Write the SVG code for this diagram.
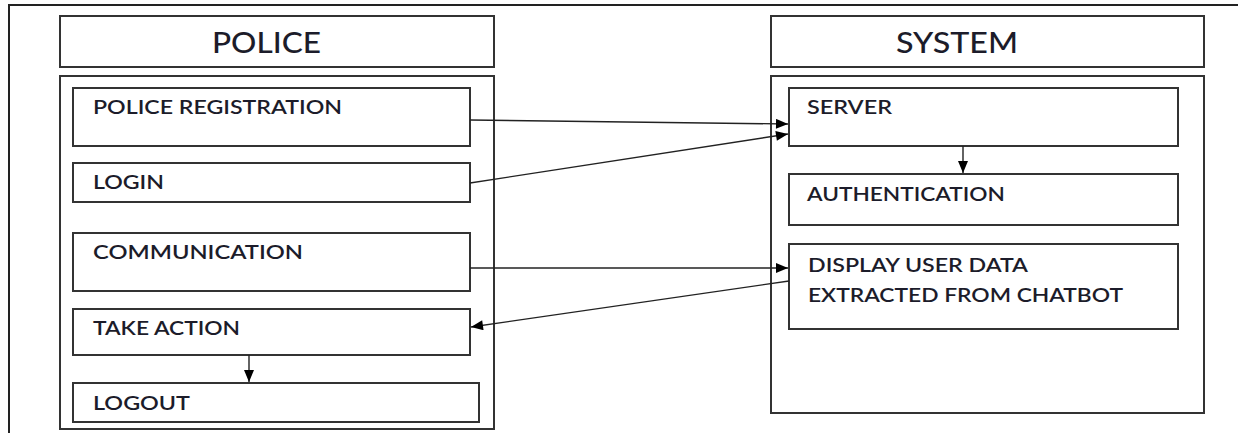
<svg xmlns="http://www.w3.org/2000/svg" width="1238" height="433" viewBox="0 0 1238 433">
<style>
.box{fill:#fff;stroke:#333;stroke-width:2}
.t{font-family:Lato,"Liberation Sans",Arial,sans-serif;font-size:19px;font-weight:600;fill:#1c1c2a}
.h{font-family:Lato,"Liberation Sans",Arial,sans-serif;font-size:28px;font-weight:500;fill:#1c1c2a}
.c{stroke:#222;stroke-width:1.4;fill:none;marker-end:url(#ah)}
</style>
<defs>
<marker id="ah" viewBox="0 0 12 10" refX="12" refY="5" markerWidth="13" markerHeight="10" markerUnits="userSpaceOnUse" orient="auto">
<path d="M0,0 L12,5 L0,10 Z" fill="#000"/>
</marker>
</defs>
<rect width="1238" height="433" fill="#fff"/>
<g id="frame">
<path d="M9,433 L9,5 L1238,5" fill="none" stroke="#222" stroke-width="2"/>
</g>
<g id="police-header"><rect class="box" x="60" y="16" width="434" height="51"/><text class="h" x="212" y="53" textLength="109" lengthAdjust="spacingAndGlyphs">POLICE</text></g>
<g id="police-container"><rect class="box" x="60" y="76" width="434" height="353"/></g>
<g id="police-registration"><rect class="box" x="73" y="88" width="397" height="58"/><text class="t" x="93" y="114" textLength="249" lengthAdjust="spacingAndGlyphs">POLICE REGISTRATION</text></g>
<g id="login"><rect class="box" x="73" y="163" width="397" height="39"/><text class="t" x="93" y="189" textLength="71" lengthAdjust="spacingAndGlyphs">LOGIN</text></g>
<g id="communication"><rect class="box" x="73" y="233" width="397" height="58"/><text class="t" x="93" y="259" textLength="210" lengthAdjust="spacingAndGlyphs">COMMUNICATION</text></g>
<g id="take-action"><rect class="box" x="73" y="309" width="397" height="46"/><text class="t" x="93" y="335" textLength="147" lengthAdjust="spacingAndGlyphs">TAKE ACTION</text></g>
<g id="logout"><rect class="box" x="73" y="383" width="406" height="39"/><text class="t" x="93" y="410" textLength="97" lengthAdjust="spacingAndGlyphs">LOGOUT</text></g>
<g id="system-header"><rect class="box" x="771" y="16" width="433" height="51"/><text class="h" x="896" y="53" textLength="122" lengthAdjust="spacingAndGlyphs">SYSTEM</text></g>
<g id="system-container"><rect class="box" x="771" y="76" width="433" height="337"/></g>
<g id="server"><rect class="box" x="789" y="88" width="389" height="58"/><text class="t" x="807" y="114" textLength="85" lengthAdjust="spacingAndGlyphs">SERVER</text></g>
<g id="authentication"><rect class="box" x="789" y="174" width="389" height="51"/><text class="t" x="807" y="201" textLength="198" lengthAdjust="spacingAndGlyphs">AUTHENTICATION</text></g>
<g id="display"><rect class="box" x="789" y="244" width="389" height="85"/><text class="t" x="808" y="272" textLength="220" lengthAdjust="spacingAndGlyphs">DISPLAY USER DATA</text><text class="t" x="808" y="302" textLength="315" lengthAdjust="spacingAndGlyphs">EXTRACTED FROM CHATBOT</text></g>
<g id="connectors">
<line class="c" x1="470" y1="120" x2="788" y2="124"/>
<line class="c" x1="470" y1="183" x2="788" y2="134"/>
<line class="c" x1="470" y1="268" x2="788" y2="268"/>
<line class="c" x1="789" y1="281" x2="471" y2="327"/>
<line class="c" x1="963" y1="146" x2="963" y2="173"/>
<line class="c" x1="249" y1="355" x2="249" y2="382"/>
</g>
</svg>
